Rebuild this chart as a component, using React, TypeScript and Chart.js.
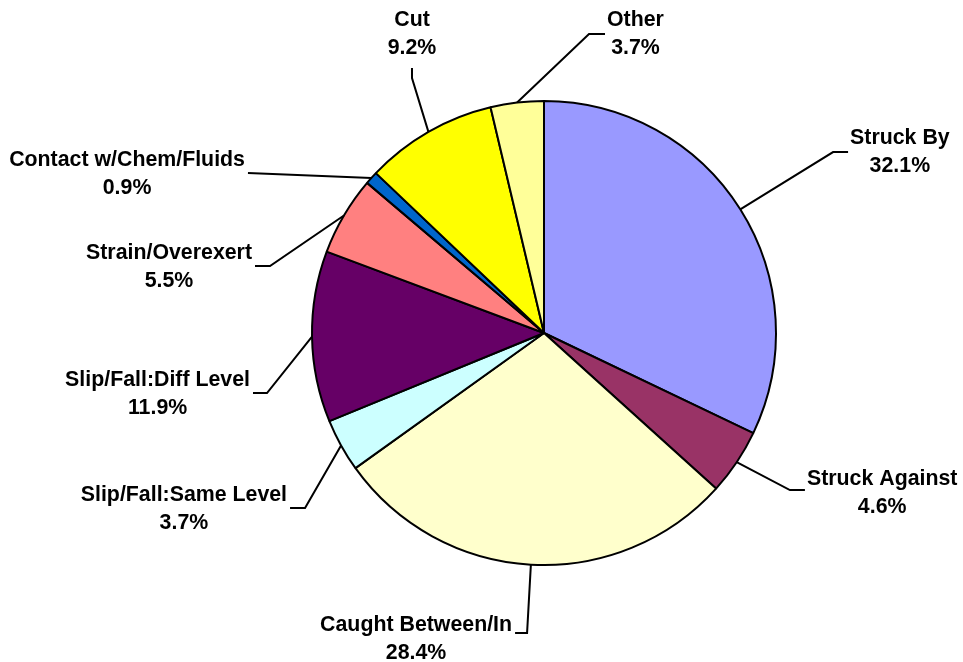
import React, { useEffect, useRef } from "react";
import { Chart, registerables } from "chart.js";

Chart.register(...registerables);

// ---- data ----
const categories = [
  "Struck By",
  "Struck Against",
  "Caught Between/In",
  "Slip/Fall:Same Level",
  "Slip/Fall:Diff Level",
  "Strain/Overexert",
  "Contact w/Chem/Fluids",
  "Cut",
  "Other",
];
const percentages = [32.1, 4.6, 28.4, 3.7, 11.9, 5.5, 0.9, 9.2, 3.7];
const sliceColors = [
  "#9999FF",
  "#993366",
  "#FFFFCC",
  "#CCFFFF",
  "#660066",
  "#FF8080",
  "#0066CC",
  "#FFFF00",
  "#FFFF99",
];

// ---- label layout (elbow of leader line relative to pie centre, in pie radii) ----
type Side = "left" | "right" | "top";
const labelElbowX = [1.246, 1.06, -0.073, -1.03, -1.194, -1.181, -1.276, -0.569, 0.194];
const labelElbowY = [-0.78, 0.677, 1.293, 0.754, 0.259, -0.289, -0.69, -1.099, -1.289];
const labelSides: Side[] = ["right", "right", "left", "left", "left", "left", "left", "top", "right"];
const labelStubs = [15, 15, 12, 15, 14, 15, 0, 10, 16];
const labelTextDy = [0, 3, 6, 1, 1, 1, 1, 0, 0];

const FONT = "bold 21.33px 'Liberation Sans', Arial, Helvetica, sans-serif";
const LINE_H = 28;

const leaderLabelPlugin = {
  id: "leaderLabels",
  afterDatasetsDraw(chart: any) {
    const ctx: CanvasRenderingContext2D = chart.ctx;
    const meta = chart.getDatasetMeta(0);
    ctx.save();
    ctx.font = FONT;
    ctx.textBaseline = "middle";
    ctx.textAlign = "center";
    ctx.strokeStyle = "#000000";
    ctx.fillStyle = "#000000";
    ctx.lineWidth = 2;
    ctx.lineJoin = "miter";
    meta.data.forEach((arc: any, i: number) => {
      const { x, y, startAngle, endAngle, outerRadius } = arc.getProps(
        ["x", "y", "startAngle", "endAngle", "outerRadius"],
        true
      );
      const mid = (startAngle + endAngle) / 2;
      const sx = x + outerRadius * Math.cos(mid);
      const sy = y + outerRadius * Math.sin(mid);
      const ex = x + labelElbowX[i] * outerRadius;
      const ey = y + labelElbowY[i] * outerRadius;
      const side = labelSides[i];
      let tx = ex;
      let ty = ey;
      if (side === "right") tx = ex + labelStubs[i];
      else if (side === "left") tx = ex - labelStubs[i];
      else ty = ey - labelStubs[i];
      ctx.beginPath();
      ctx.moveTo(sx, sy);
      ctx.lineTo(ex, ey);
      ctx.lineTo(tx, ty);
      ctx.stroke();

      const lines = [categories[i], percentages[i].toFixed(1) + "%"];
      const w = Math.max(...lines.map((l) => ctx.measureText(l).width));
      let cx = tx;
      let cy = ty;
      if (side === "right") cx = tx + 2 + w / 2;
      else if (side === "left") cx = tx - 3 - w / 2;
      else cy = ty - 6 - LINE_H;
      cy += labelTextDy[i];
      ctx.fillText(lines[0], cx, cy - LINE_H / 2);
      ctx.fillText(lines[1], cx, cy + LINE_H / 2);
    });
    ctx.restore();
  },
};

export default function App() {
  const canvasRef = useRef<HTMLCanvasElement | null>(null);

  useEffect(() => {
    if (!canvasRef.current) return;
    const chart = new Chart(canvasRef.current, {
      type: "pie",
      data: {
        labels: categories,
        datasets: [
          {
            data: percentages,
            backgroundColor: sliceColors,
            borderColor: "#000000",
            borderWidth: 2,
            radius: 232,
          } as any,
        ],
      },
      options: {
        responsive: false,
        animation: false,
        rotation: 0,
        layout: { padding: { left: 312, right: 187, top: 101, bottom: 97 } },
        plugins: {
          legend: { display: false },
          tooltip: { enabled: false },
        },
      },
      plugins: [leaderLabelPlugin],
    });
    return () => chart.destroy();
  }, []);

  return (
    <div style={{ position: "absolute", left: 0, top: 0, width: 963, height: 662, background: "#ffffff" }}>
      <canvas ref={canvasRef} width={963} height={662} style={{ display: "block" }} />
    </div>
  );
}
